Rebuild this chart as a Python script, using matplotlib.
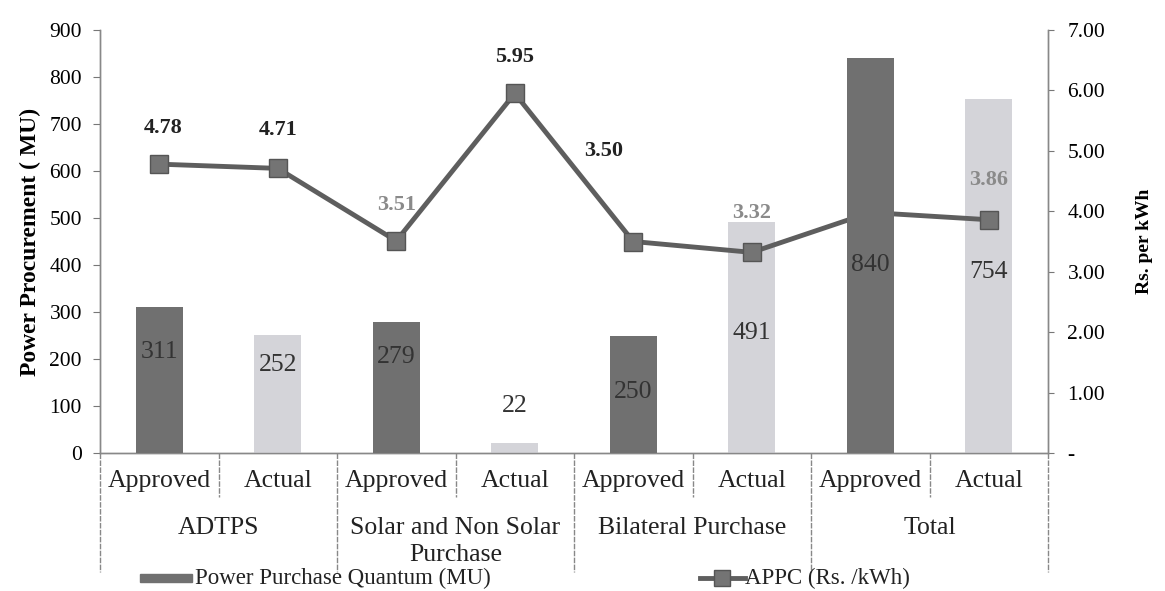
import matplotlib
matplotlib.use("Agg")
import matplotlib.pyplot as plt
from matplotlib.patches import Rectangle
from matplotlib.lines import Line2D
from matplotlib.transforms import blended_transform_factory

plt.rcParams['font.family'] = ['Liberation Serif', 'DejaVu Serif']

# ---- data ----
sub_labels = ["Approved", "Actual", "Approved", "Actual", "Approved", "Actual", "Approved", "Actual"]
group_labels = ["ADTPS", "Solar and Non Solar\nPurchase", "Bilateral Purchase", "Total"]
quantum_mu = [311, 252, 279, 22, 250, 491, 840, 754]
appc_rs = [4.78, 4.71, 3.51, 5.95, 3.50, 3.32, 3.98, 3.86]
left_ticks = [0, 100, 200, 300, 400, 500, 600, 700, 800, 900]
right_ticks = [0, 1, 2, 3, 4, 5, 6, 7]
right_tick_labels = ["-", "1.00", "2.00", "3.00", "4.00", "5.00", "6.00", "7.00"]

# ---- style ----
dark = "#707070"
light = "#d4d4d9"
line_col = "#5e5e5e"
marker_col = "#747474"
marker_edge = "#555555"
text_dark = "#222222"
bar_label_y = [215, 187, 204, 100, 130, 255, 400, 385]
line_label_y = [5.38, 5.35, 4.10, 6.56, 5.00, 3.97, 4.60, 4.52]
line_label_dx = [0.03, 0, 0, 0, -0.25, 0, 0, 0]
line_label_col = [text_dark, text_dark, "#8a8a8a", text_dark, text_dark, "#8a8a8a", dark, "#8a8a8a"]

fig = plt.figure(figsize=(11.65, 5.91), dpi=100)
ax = fig.add_axes([100/1165, 1-453/591, 948/1165, 423/591])
ax2 = ax.twinx()
ax2.set_zorder(ax.get_zorder() - 1)
ax.patch.set_visible(False)

ax.set_xlim(-0.5, len(quantum_mu) - 0.5)
ax.set_ylim(0, 900)
ax2.set_ylim(0, 7)

x = list(range(len(quantum_mu)))
for xi, v in zip(x, quantum_mu):
    is_approved = xi % 2 == 0
    ax.bar(xi, v, width=0.4, color=dark if is_approved else light,
           zorder=5 if is_approved else 2)
for xi, v, ly in zip(x, quantum_mu, bar_label_y):
    ax.text(xi, ly, str(v), ha='center', va='center', fontsize=18.5, color="#333333", zorder=7)

# APPC line on the right-hand scale (drawn in the main axes so the dark bars can overlap it)
ax.plot(x, appc_rs, transform=ax2.transData, color=line_col, lw=3.5, marker='s', ms=13,
        markerfacecolor=marker_col, markeredgecolor=marker_edge, markeredgewidth=1.0, zorder=4)
for xi, v, ly, dx, c in zip(x, appc_rs, line_label_y, line_label_dx, line_label_col):
    ax.text(xi + dx, ly, f"{v:.2f}", transform=ax2.transData, ha='center', va='center',
            fontsize=16, fontweight='bold', color=c, zorder=3)

ax.set_yticks(left_ticks)
ax.set_yticklabels([str(t) for t in left_ticks], fontsize=15.5)
ax.set_xticks([])
ax.tick_params(axis='y', direction='out', length=5, pad=8, color="#777777")
ax.set_ylabel("Power Procurement ( MU)", fontsize=17, fontweight='bold', labelpad=6)

ax2.set_yticks(right_ticks)
ax2.set_yticklabels(right_tick_labels, fontsize=15.5)
ax2.tick_params(axis='y', direction='out', length=4, pad=10, color="#777777")
ax2.set_ylabel("Rs. per kWh", fontsize=14, fontweight='bold', labelpad=22)

for a in (ax, ax2):
    a.spines['top'].set_visible(False)
    for s in ('left', 'right', 'bottom'):
        a.spines[s].set_color("#888888")
        a.spines[s].set_linewidth(1.0)

# ---- two-level category axis ----
trans = blended_transform_factory(ax.transData, fig.transFigure)
def fy(py):
    return 1 - py / 591

n = len(x)
for b in range(n + 1):
    xb = b - 0.5
    y_end = 572 if b % 2 == 0 else 497
    ax.add_line(Line2D([xb, xb], [fy(453), fy(y_end)], transform=trans, color="#888888",
                       lw=1.0, ls=(0, (4, 1)), clip_on=False))
for xi, lab in zip(x, sub_labels):
    ax.text(xi, fy(481), lab, transform=trans, ha='center', va='center', fontsize=18.5, color=text_dark)
for g, lab in enumerate(group_labels):
    ax.text(2 * g + 0.5, fy(517), lab, transform=trans, ha='center', va='top', fontsize=18.5,
            color=text_dark, linespacing=1.3)

# ---- legend ----
fig.patches.append(Rectangle((140/1165, fy(582)), 52/1165, 8/591, transform=fig.transFigure,
                             color=dark, figure=fig))
fig.text(195/1165, fy(578), "Power Purchase Quantum (MU)", ha='left', va='center', fontsize=16.5,
         color=text_dark)
fig.add_artist(Line2D([700/1165, 745/1165], [fy(578), fy(578)], transform=fig.transFigure,
                      color=line_col, lw=3.5))
fig.add_artist(Line2D([722/1165], [fy(578)], transform=fig.transFigure, lw=0,
                      marker='s', ms=11, markerfacecolor=marker_col, markeredgecolor=marker_edge))
fig.text(745/1165, fy(578), "APPC (Rs. /kWh)", ha='left', va='center', fontsize=16.5, color=text_dark)

fig.savefig("out.png", dpi=100)
